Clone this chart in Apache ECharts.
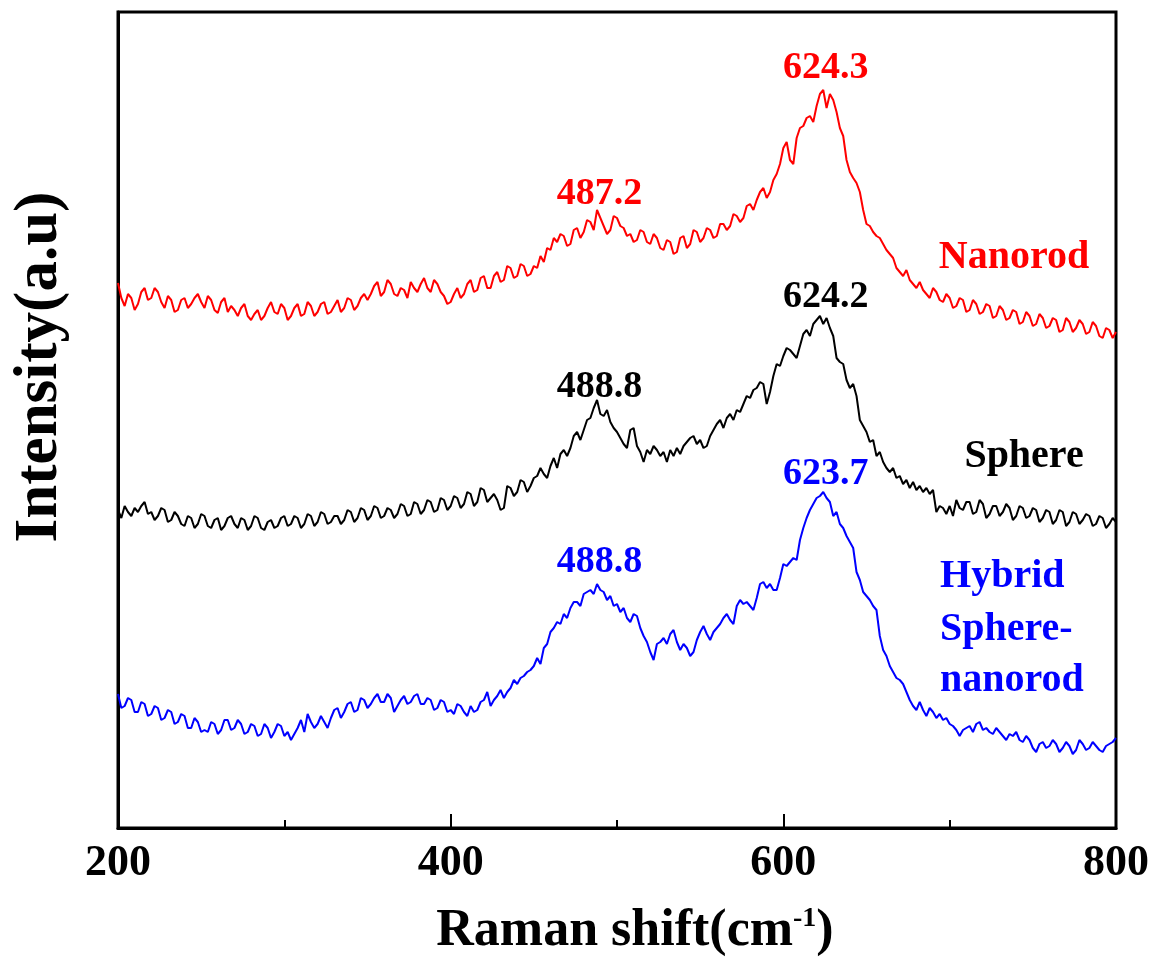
<!DOCTYPE html>
<html>
<head>
<meta charset="utf-8">
<script src="https://cdn.jsdelivr.net/npm/echarts@6/dist/echarts.min.js"></script>
<style>
  html, body { margin: 0; padding: 0; background: #fff; }
  #chart { width: 1153px; height: 958px; }
</style>
</head>
<body>
<div id="chart"></div>
<script>
// Raman shift sampling (cm-1): 200 to 800, every 2; one row = 50 cm-1
var shiftStart = 200, shiftStep = 2;

var nanorod = [
  545, 530, 522, 534, 530, 518, 524, 536, 540, 528, 530, 540, 536, 526, 520, 532, 528, 516, 518, 528, 530, 520, 524, 530, 534,
  526, 520, 532, 528, 518, 515, 526, 530, 516, 522, 518, 512, 520, 524, 512, 508, 514, 518, 508, 512, 520, 526, 516, 514, 524,
  520, 508, 512, 520, 524, 512, 514, 526, 522, 512, 516, 524, 526, 514, 516, 522, 528, 516, 520, 530, 528, 518, 522, 530, 534,
  528, 534, 542, 546, 532, 536, 548, 544, 534, 532, 540, 538, 530, 546, 540, 536, 544, 550, 540, 536, 548, 544, 536, 532, 524,
  526, 534, 540, 530, 534, 544, 548, 536, 538, 550, 552, 540, 540, 552, 556, 546, 548, 562, 560, 550, 552, 564, 562, 552, 554,
  562, 560, 572, 566, 580, 578, 590, 586, 594, 592, 582, 584, 598, 600, 590, 596, 608, 606, 598, 618, 610, 602, 594, 598, 612,
  610, 602, 600, 592, 594, 586, 588, 598, 596, 586, 584, 594, 590, 580, 578, 588, 586, 574, 576, 590, 592, 580, 584, 598, 596,
  586, 590, 600, 598, 590, 592, 604, 604, 598, 602, 614, 612, 606, 610, 622, 624, 618, 628, 636, 640, 630, 636, 648, 654, 664,
  680, 686, 668, 664, 690, 700, 702, 710, 712, 706, 722, 734, 738, 720, 734, 728, 716, 700, 692, 668, 656, 650, 645, 636, 618,
  604, 602, 596, 592, 590, 584, 578, 574, 570, 560, 556, 552, 558, 548, 544, 540, 546, 538, 534, 530, 540, 536, 528, 526, 534,
  530, 520, 522, 530, 528, 516, 518, 528, 524, 514, 516, 524, 522, 510, 512, 522, 518, 508, 510, 518, 516, 504, 506, 516, 512,
  502, 504, 514, 510, 500, 502, 510, 508, 496, 498, 510, 506, 496, 500, 508, 504, 494, 496, 506, 502, 492, 490, 500, 498, 490,
  496
];

var sphere = [
  318, 310, 322, 316, 312, 320, 316, 322, 326, 314, 316, 308, 312, 320, 318, 306, 308, 316, 312, 304, 302, 312, 310, 300, 304,
  314, 312, 302, 300, 308, 310, 298, 302, 310, 312, 304, 300, 310, 308, 298, 302, 312, 310, 300, 298, 306, 308, 300, 302, 310,
  312, 302, 304, 312, 310, 300, 304, 314, 312, 302, 306, 316, 314, 304, 306, 312, 312, 304, 308, 318, 316, 306, 310, 320, 318,
  308, 312, 322, 320, 310, 312, 320, 318, 310, 314, 324, 322, 312, 314, 326, 324, 314, 318, 328, 326, 316, 318, 330, 328, 318,
  322, 332, 330, 320, 324, 336, 334, 322, 326, 340, 338, 326, 330, 334, 328, 318, 320, 342, 340, 332, 336, 348, 346, 336, 342,
  350, 352, 360, 354, 350, 362, 370, 360, 374, 378, 372, 380, 392, 396, 388, 398, 408, 410, 420, 428, 414, 412, 418, 406, 400,
  396, 390, 384, 380, 398, 400, 382, 376, 366, 378, 374, 382, 378, 372, 376, 366, 378, 372, 380, 374, 382, 386, 390, 392, 384,
  388, 380, 382, 392, 398, 404, 408, 400, 410, 414, 408, 418, 416, 424, 432, 430, 438, 440, 446, 444, 424, 436, 452, 464, 462,
  472, 480, 478, 474, 470, 482, 494, 498, 492, 504, 508, 512, 504, 510, 500, 492, 470, 466, 464, 448, 440, 444, 432, 408, 402,
  396, 386, 388, 372, 376, 366, 360, 356, 360, 350, 352, 344, 348, 340, 346, 338, 342, 336, 340, 334, 338, 316, 322, 320, 314,
  322, 312, 328, 320, 318, 326, 326, 314, 316, 328, 324, 310, 314, 322, 322, 312, 316, 324, 320, 308, 312, 322, 320, 310, 312,
  320, 318, 306, 310, 318, 316, 304, 308, 318, 316, 302, 306, 316, 314, 304, 308, 314, 312, 302, 304, 312, 310, 300, 304, 310,
  306
];

var hybrid = [
  134, 120, 122, 130, 128, 116, 116, 126, 124, 112, 114, 122, 120, 108, 110, 118, 116, 104, 106, 114, 112, 100, 100, 110, 106,
  96, 98, 96, 106, 104, 94, 98, 108, 108, 98, 100, 108, 104, 94, 96, 104, 102, 92, 94, 104, 100, 90, 96, 104, 102,
  92, 96, 88, 94, 100, 108, 96, 114, 106, 100, 104, 112, 106, 100, 110, 118, 120, 110, 116, 124, 126, 116, 118, 130, 128,
  120, 124, 130, 134, 126, 126, 134, 130, 116, 122, 128, 132, 124, 126, 132, 134, 124, 124, 130, 128, 118, 120, 128, 126, 116,
  118, 114, 124, 122, 116, 112, 122, 116, 118, 126, 128, 136, 122, 128, 132, 138, 130, 136, 140, 148, 144, 150, 152, 156, 158,
  162, 170, 164, 180, 184, 196, 200, 206, 204, 214, 210, 220, 226, 226, 222, 234, 236, 238, 234, 244, 238, 236, 228, 232, 222,
  224, 216, 220, 210, 206, 214, 212, 200, 192, 186, 176, 168, 184, 186, 190, 184, 194, 198, 186, 178, 184, 180, 172, 176, 188,
  196, 202, 194, 188, 196, 200, 204, 210, 214, 208, 204, 222, 228, 224, 226, 222, 218, 230, 244, 246, 240, 244, 238, 238, 250,
  264, 262, 266, 270, 268, 288, 300, 310, 318, 324, 330, 332, 336, 330, 326, 312, 316, 304, 300, 292, 286, 280, 256, 248, 236,
  232, 228, 222, 218, 192, 178, 172, 162, 156, 150, 148, 144, 136, 128, 122, 118, 126, 118, 112, 120, 116, 110, 114, 108, 110,
  104, 102, 98, 92, 98, 100, 102, 96, 104, 106, 98, 100, 96, 94, 100, 96, 92, 88, 94, 92, 96, 88, 86, 92, 88,
  80, 76, 84, 86, 80, 82, 88, 84, 76, 80, 86, 82, 74, 78, 88, 84, 78, 80, 86, 82, 78, 76, 82, 84, 86,
  90
];

// peak labels: [shift, label height (a.u.), text, colour]
var peakLabels = [
  [625.5, 760, '624.3', '#ff0000'],
  [489.5, 634, '487.2', '#ff0000'],
  [625.5, 531, '624.2', '#000000'],
  [489.5, 441, '488.8', '#000000'],
  [625.5, 354, '623.7', '#0000ff'],
  [489.5, 266, '488.8', '#0000ff']
];

var sampleNames = [
  [738.7, 570, 'Nanorod', '#ff0000', 'center'],
  [744.7, 371, 'Sphere', '#000000', 'center'],
  [694.2, 251, 'Hybrid', '#0000ff', 'left'],
  [694.2, 198, 'Sphere-', '#0000ff', 'left'],
  [694.2, 147, 'nanorod', '#0000ff', 'left']
];

function pairs(arr) {
  return arr.map(function (v, i) { return [shiftStart + i * shiftStep, v]; });
}

var serif = '"Liberation Serif", "Times New Roman", serif';
var chart = echarts.init(document.getElementById('chart'));

var option = {
  backgroundColor: '#fff',
  animation: false,
  grid: {
    left: 118, right: 37, top: 12, bottom: 130,
    show: true, borderColor: '#000', borderWidth: 3
  },
  xAxis: {
    type: 'value',
    min: 200, max: 800, interval: 200,
    axisLine: { lineStyle: { color: '#000', width: 3 } },
    axisTick: { inside: true, length: 14, lineStyle: { color: '#000', width: 2 } },
    minorTick: { show: true, splitNumber: 2, length: 8, lineStyle: { color: '#000', width: 2 } },
    splitLine: { show: false },
    axisLabel: { margin: 14, color: '#000', fontFamily: serif, fontWeight: 'bold', fontSize: 44 }
  },
  yAxis: {
    type: 'value',
    min: 0, max: 816,
    axisLine: { show: true, lineStyle: { color: '#000', width: 3 } },
    axisTick: { show: false },
    axisLabel: { show: false },
    splitLine: { show: false }
  },
  series: [
    { name: 'Nanorod', type: 'line', data: pairs(nanorod), showSymbol: false, lineStyle: { color: '#ff0000', width: 2 } },
    { name: 'Sphere', type: 'line', data: pairs(sphere), showSymbol: false, lineStyle: { color: '#000000', width: 2 } },
    { name: 'Hybrid', type: 'line', data: pairs(hybrid), showSymbol: false, lineStyle: { color: '#0000ff', width: 2 } }
  ]
};
chart.setOption(option);

var g = [];
peakLabels.forEach(function (p) {
  var pt = chart.convertToPixel({ gridIndex: 0 }, [p[0], p[1]]);
  g.push({ type: 'text', x: pt[0], y: pt[1], style: {
    text: p[2], fill: p[3], font: 'bold 38px ' + serif, textAlign: 'center', textVerticalAlign: 'middle' } });
});
sampleNames.forEach(function (p) {
  var pt = chart.convertToPixel({ gridIndex: 0 }, [p[0], p[1]]);
  g.push({ type: 'text', x: pt[0], y: pt[1], style: {
    text: p[2], fill: p[3], font: 'bold 40px ' + serif, textAlign: p[4], textVerticalAlign: 'middle' } });
});
// axis titles
g.push({ type: 'text', x: 40, y: 367, rotation: Math.PI / 2, style: {
  text: 'Intensity(a.u)', fill: '#000', font: 'bold 61px ' + serif, textAlign: 'center', textVerticalAlign: 'middle' } });
g.push({ type: 'text', x: 635, y: 932, style: {
  text: '{a|Raman shift(cm}{s|-1}{a|)}', textAlign: 'center', textVerticalAlign: 'middle',
  rich: {
    a: { font: 'bold 52px ' + serif, fill: '#000' },
    s: { font: 'bold 28px ' + serif, fill: '#000', verticalAlign: 'top', padding: [0, 0, 26, 0] }
  } } });
chart.setOption({ graphic: g });
</script>
</body>
</html>
